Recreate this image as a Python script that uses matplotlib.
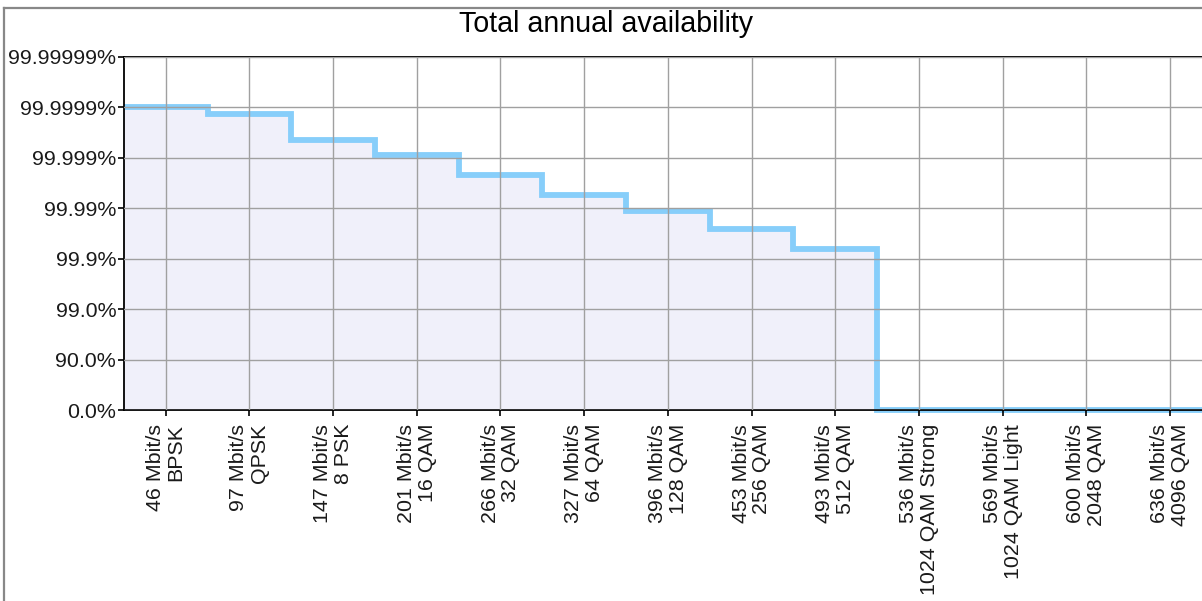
import numpy as np
import matplotlib
matplotlib.use("Agg")
import matplotlib.pyplot as plt
from matplotlib.lines import Line2D

# ---- data ----
rates = ["46", "97", "147", "201", "266", "327", "396", "453", "493",
         "536", "569", "600", "636"]
modulations = ["BPSK", "QPSK", "8 PSK", "16 QAM", "32 QAM", "64 QAM",
               "128 QAM", "256 QAM", "512 QAM", "1024 QAM Strong",
               "1024 QAM Light", "2048 QAM", "4096 QAM"]
availability = [99.9999, 99.999868, 99.999563, 99.999109, 99.997812,
                99.994505, 99.98852, 99.97430, 99.93543,
                0.0, 0.0, 0.0, 0.0]  # percent
ytick_values = [0.0, 90.0, 99.0, 99.9, 99.99, 99.999, 99.9999, 99.99999]
ytick_labels = ["0.0%", "90.0%", "99.0%", "99.9%", "99.99%", "99.999%",
                "99.9999%", "99.99999%"]
title = "Total annual availability"

plt.rcParams['font.family'] = ['Liberation Sans', 'DejaVu Sans']

W, H = 1202, 601
fig = plt.figure(figsize=(W / 100, H / 100), dpi=100)

left_px, right_px = 123.8, 123.8 + 13 * 83.7
top_px, bot_px = 57, 410
ax = fig.add_axes([left_px / W, 1 - bot_px / H,
                   (right_px - left_px) / W, (bot_px - top_px) / H])


def fwd(a):
    a = np.asarray(a, dtype=float)
    with np.errstate(all='ignore'):
        return -np.log10(np.clip(1 - a / 100.0, 1e-12, None))


def inv(n):
    n = np.asarray(n, dtype=float)
    return 100.0 * (1 - 10.0 ** (-n))


ax.set_yscale('function', functions=(fwd, inv))
ax.set_ylim(0, 99.99999)

n = len(rates)
edges = np.arange(n + 1) - 0.5
ax.stairs(availability, edges, baseline=0, fill=True,
          color='#F0F0FA', zorder=1, linewidth=0)
ax.stairs(availability, edges, baseline=None, color='#87CEFA',
          linewidth=4.2, zorder=2, clip_on=False)
ax.set_xlim(-0.5, n - 0.5)

ax.set_axisbelow(False)
ax.grid(True, color='#A0A0A0', linewidth=1.0, zorder=2.5)

ax.set_yticks(ytick_values)
ax.set_yticklabels(ytick_labels, fontsize=15.4)
ax.yaxis.set_minor_locator(matplotlib.ticker.NullLocator())

xlabels = [f"{r} Mbit/s\n{m}" for r, m in zip(rates, modulations)]
ax.set_xticks(np.arange(n))
ax.set_xticklabels(xlabels, rotation=90, ha='center', va='top',
                   multialignment='right', fontsize=15.4, linespacing=1.12)

ax.tick_params(axis='both', direction='out', length=4, width=1.2,
               color='black', labelcolor='#1a1a1a')
ax.tick_params(axis='x', pad=6)
ax.tick_params(axis='y', pad=1.5)

for s in ax.spines.values():
    s.set_color('black')
    s.set_linewidth(1.3)

fig.text(606.5 / W, 1 - 31.7 / H, title, ha='center', va='baseline',
         fontsize=20.6, color='black')

# outer frame lines (left and top)
fig.add_artist(Line2D([3.7 / W, 3.7 / W], [0, 1 - 7.5 / H],
                      transform=fig.transFigure, color='#888888', lw=1.6))
fig.add_artist(Line2D([3.7 / W, 1], [1 - 7.5 / H, 1 - 7.5 / H],
                      transform=fig.transFigure, color='#888888', lw=1.6))

fig.savefig("out.png", dpi=100)
